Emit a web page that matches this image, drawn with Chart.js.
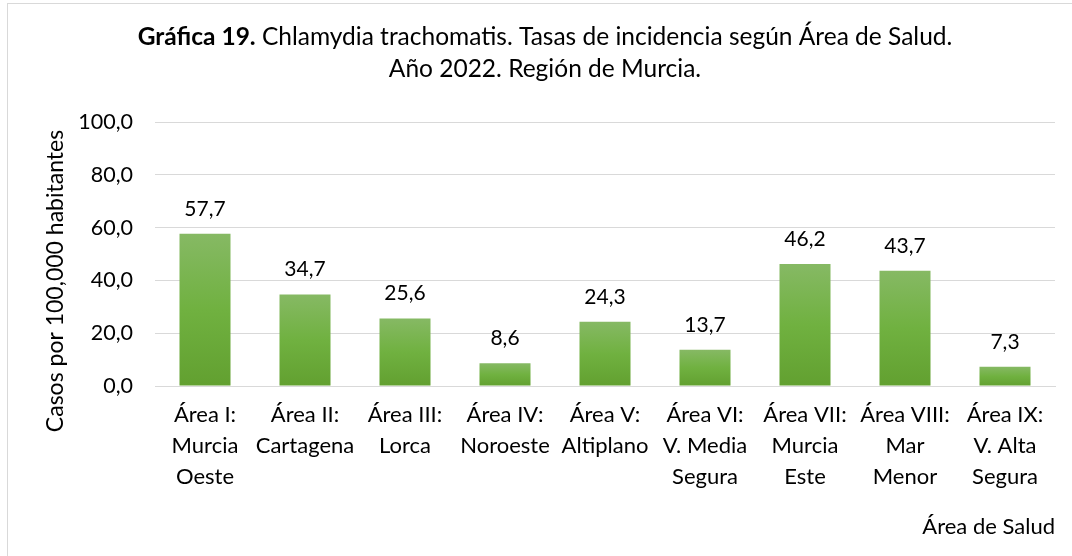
<!DOCTYPE html>
<html>
<head>
<meta charset="utf-8">
<script src="https://cdn.jsdelivr.net/npm/chart.js@4.4.1/dist/chart.umd.min.js"></script>
<style>
  html, body { margin: 0; padding: 0; background: #fff; }
  #wrap { position: relative; width: 1072px; height: 556px; overflow: hidden; }
  #frame { position: absolute; left: 7px; top: 3px; width: 1200px; height: 700px; border: 1px solid #d9d9d9; box-sizing: border-box; }
  canvas { position: absolute; left: 0; top: 0; }
</style>
</head>
<body>
<div id="wrap">
  <div id="frame"></div>
  <canvas id="c" width="1072" height="556"></canvas>
</div>
<script>
const categories = [
  ["Área I:", "Murcia", "Oeste"],
  ["Área II:", "Cartagena"],
  ["Área III:", "Lorca"],
  ["Área IV:", "Noroeste"],
  ["Área V:", "Altiplano"],
  ["Área VI:", "V. Media", "Segura"],
  ["Área VII:", "Murcia", "Este"],
  ["Área VIII:", "Mar", "Menor"],
  ["Área IX:", "V. Alta", "Segura"]
];
const rates = [57.7, 34.7, 25.6, 8.6, 24.3, 13.7, 46.2, 43.7, 7.3];
const titleBold = "Gráfica 19.";
const titleRest = " Chlamydia trachomatis. Tasas de incidencia según Área de Salud.";
const titleLine2 = "Año 2022. Región de Murcia.";
const yTitle = "Casos por 100,000 habitantes";
const xTitle = "Área de Salud";

const FONT = "Lato, 'Noto Sans', sans-serif";
const fmt = v => v.toFixed(1).replace('.', ',');

const titlePlugin = {
  id: 'titlePlugin',
  afterDraw(chart) {
    const ctx = chart.ctx;
    ctx.save();
    ctx.fillStyle = '#000';
    ctx.textBaseline = 'middle';
    const cx = 545;
    ctx.font = "bold 24.5px " + FONT;
    const wb = ctx.measureText(titleBold).width;
    ctx.font = "24.5px " + FONT;
    const wr = ctx.measureText(titleRest).width;
    let x = cx - (wb + wr) / 2;
    ctx.textAlign = 'left';
    ctx.font = "bold 24.5px " + FONT;
    ctx.fillText(titleBold, x, 37);
    ctx.font = "24.5px " + FONT;
    ctx.fillText(titleRest, x + wb, 37);
    ctx.textAlign = 'center';
    ctx.fillText(titleLine2, cx, 69);
    // y axis title
    ctx.translate(56, 281);
    ctx.rotate(-Math.PI / 2);
    ctx.font = "23px " + FONT;
    ctx.textAlign = 'center';
    ctx.textBaseline = 'middle';
    ctx.fillText(yTitle, 0, 0);
    ctx.restore();
  }
};

const labelPlugin = {
  id: 'labelPlugin',
  afterDatasetsDraw(chart) {
    const ctx = chart.ctx;
    const meta = chart.getDatasetMeta(0);
    ctx.save();
    ctx.fillStyle = '#000';
    ctx.font = "21px " + FONT;
    ctx.textAlign = 'center';
    ctx.textBaseline = 'alphabetic';
    meta.data.forEach((bar, i) => {
      ctx.fillText(fmt(rates[i]), bar.x, bar.y - 18);
    });
    ctx.restore();
  }
};

function barGradient(context) {
  const chart = context.chart;
  const area = chart.chartArea;
  if (!area || !chart.scales.y) return '#70ad47';
  const v = context.raw;
  const yTop = chart.scales.y.getPixelForValue(v);
  const yBot = chart.scales.y.getPixelForValue(0);
  const g = chart.ctx.createLinearGradient(0, yTop, 0, yBot);
  g.addColorStop(0, '#86b964');
  g.addColorStop(0.5, '#70b140');
  g.addColorStop(1, '#62a030');
  return g;
}

new Chart(document.getElementById('c'), {
  type: 'bar',
  data: {
    labels: categories,
    datasets: [{
      data: rates,
      backgroundColor: barGradient,
      borderWidth: 0,
      barPercentage: 0.51,
      categoryPercentage: 1.0
    }]
  },
  options: {
    responsive: false,
    animation: false,
    events: [],
    layout: { padding: { left: 0, top: 122, right: 17, bottom: 0 } },
    plugins: { legend: { display: false }, title: { display: false }, tooltip: { enabled: false } },
    scales: {
      x: {
        grid: { display: false, drawTicks: false },
        border: { display: true, color: '#d9d9d9', width: 1 },
        ticks: {
          color: '#000', padding: 13, maxRotation: 0, autoSkip: false,
          font: { family: FONT, size: 22, lineHeight: 1.41 }
        },
        title: {
          display: true, text: xTitle, align: 'end', color: '#000',
          font: { family: FONT, size: 22, lineHeight: 1.2 },
          padding: { top: 0, bottom: 16 }
        },
        afterFit(scale) { scale.height = 170; }
      },
      y: {
        min: 0, max: 100,
        ticks: {
          stepSize: 20, color: '#000', padding: 22,
          font: { family: FONT, size: 21.5 },
          callback: v => fmt(v)
        },
        grid: { color: '#d9d9d9', lineWidth: 1, drawTicks: false },
        border: { display: false },
        title: { display: false },
        afterFit(scale) { scale.width = 155; }
      }
    }
  },
  plugins: [titlePlugin, labelPlugin]
});
</script>
</body>
</html>
